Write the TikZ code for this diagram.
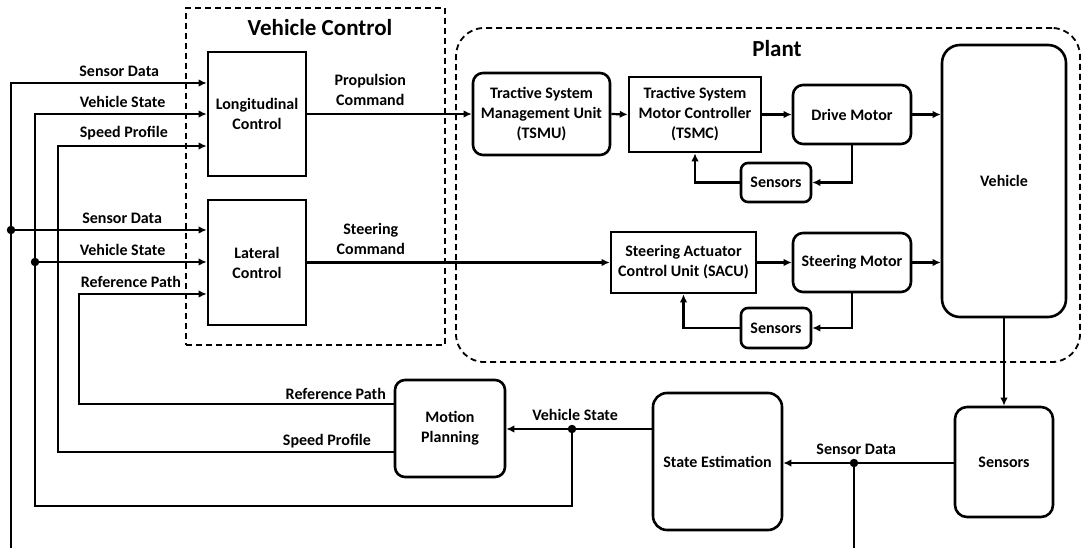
\documentclass[tikz,border=0pt]{standalone}
\usepackage{fontspec}
\setmainfont{Carlito}
\usetikzlibrary{arrows.meta}
\begin{document}
\begin{tikzpicture}[x=1pt,y=-1pt,
  line width=2.2pt,
  >={Latex[length=8pt,width=7.5pt]},
  txt/.style={font=\fontsize{16}{20}\selectfont\bfseries, align=center},
  sq/.style={draw, line width=2.6pt, txt, inner sep=0pt},
  rbox/.style={sq, rounded corners=10pt},
  lbl/.style={txt, inner sep=5pt},
  grp/.style={draw, line width=1.8pt, dash pattern=on 6pt off 4pt, inner sep=0pt},
  ttl/.style={font=\fontsize{23}{27}\selectfont\bfseries},
  dot/.style={circle, fill, inner sep=0pt, minimum size=8.5pt}]
\useasboundingbox (0,0) rectangle (1083,548);

% group frames
\node[grp, minimum width=259pt, minimum height=337pt] (vc) at (315.5,176.5) {};
\node[ttl] (vctitle) at (320,28) {Vehicle Control};
\node[grp, rounded corners=28pt, minimum width=624pt, minimum height=334pt] (plant) at (768,195) {};
\node[ttl] (planttitle) at (777,49) {Plant};

% controller blocks
\node[sq, minimum width=98pt, minimum height=124pt] (lc) at (257,114) {Longitudinal\\Control};
\node[sq, minimum width=98pt, minimum height=125pt] (latc) at (257,262.5) {Lateral\\Control};

% plant blocks
\node[rbox, minimum width=137pt, minimum height=82pt] (tsmu) at (541.5,114) {Tractive System\\Management Unit\\(TSMU)};
\node[sq, minimum width=132pt, minimum height=75pt] (tsmc) at (695,114.5) {Tractive System\\Motor Controller\\(TSMC)};
\node[rbox, minimum width=118pt, minimum height=59pt] (dm) at (852,114.5) {Drive Motor};
\node[rbox, rounded corners=18pt, minimum width=124pt, minimum height=272pt] (veh) at (1004,181) {Vehicle};
\node[rbox, rounded corners=7pt, minimum width=70pt, minimum height=39pt] (s1) at (776,182.5) {Sensors};
\node[sq, minimum width=145pt, minimum height=61pt] (sacu) at (683.5,262.5) {Steering Actuator\\Control Unit (SACU)};
\node[rbox, minimum width=118pt, minimum height=59pt] (sm) at (852,262.5) {Steering Motor};
\node[rbox, rounded corners=7pt, minimum width=70pt, minimum height=40pt] (s2) at (776,328) {Sensors};

% estimation and planning blocks
\node[rbox, minimum width=110pt, minimum height=97pt] (mp) at (450,428.5) {Motion\\Planning};
\node[rbox, rounded corners=14pt, minimum width=129pt, minimum height=137pt] (se) at (717.5,461.5) {State Estimation};
\node[rbox, rounded corners=12pt, minimum width=98pt, minimum height=110pt] (s3) at (1004,462) {Sensors};

% bus corners and junctions
\coordinate (busA) at (11,548);
\coordinate (busAt) at (11,83);
\coordinate (jA) at (11,230);
\coordinate (busB) at (35,114);
\coordinate (jB) at (35,262);
\coordinate (busBb) at (35,506);
\coordinate (busC) at (58,146);
\coordinate (busCb) at (58,452);
\coordinate (busD) at (79,294);
\coordinate (busDb) at (79,404);
\coordinate (jV) at (572,429);
\coordinate (jS) at (854,463);
\coordinate (sdDown) at (854,548);

% inputs to the controllers
\draw[->] (busA) -- (busAt) -- node[lbl, above, pos=.553] {Sensor Data} (lc.west |- busAt);
\draw[->] (jA) -- node[lbl, above, pos=.568] {Sensor Data} (latc.west |- jA);
\draw[->] (jV) |- (busBb) -- (busB) -- node[lbl, above, pos=.51] {Vehicle State} (lc.west |- busB);
\draw[->] (jB) -- node[lbl, above, pos=.51] {Vehicle State} (latc.west |- jB);
\draw[->] (mp.west |- busCb) -- node[lbl, above, inner sep=2.5pt, pos=.199] {Speed Profile} (busCb) -- (busC)
  -- node[lbl, above, pos=.443] {Speed Profile} (lc.west |- busC);
\draw[->] (mp.west |- busDb) -- node[lbl, above, inner sep=3pt, pos=.184] {Reference Path} (busDb) -- (busD)
  -- node[lbl, above, pos=.407] {Reference Path} (latc.west |- busD);

% commands
\draw[->] (lc.east) -- node[lbl, above, inner sep=7pt, pos=.383] {Propulsion\\Command} (tsmu.west);
\draw[->] (latc.east) -- node[lbl, above, inner sep=7pt, pos=.21] {Steering\\Command} (sacu.west);

% propulsion chain
\draw[->] (tsmu.east) -- (tsmc.west);
\draw[->] (tsmc.east) -- (dm.west);
\draw[->] (dm.east) -- (veh.west |- dm.east);
\draw[->] (dm.south) |- (s1.east);
\draw[->] (s1.west) -| (tsmc.south);

% steering chain
\draw[->] (sacu.east) -- (sm.west);
\draw[->] (sm.east) -- (veh.west |- sm.east);
\draw[->] (sm.south) |- (s2.east);
\draw[->] (s2.west) -| (sacu.south);

% feedback path
\draw[->] (veh.south) -- (s3.north);
\draw[->] (s3.west |- jS) -- node[lbl, above, inner sep=7.5pt, pos=.572] {Sensor Data} (se.east |- jS);
\draw (jS) -- (sdDown);
\draw[->] (se.west |- jV) -- node[lbl, above, inner sep=7.5pt, pos=.527] {Vehicle State} (mp.east |- jV);

% junction dots
\node[dot] (dA) at (jA) {};
\node[dot] (dB) at (jB) {};
\node[dot] (dV) at (jV) {};
\node[dot] (dS) at (jS) {};
\end{tikzpicture}
\end{document}
